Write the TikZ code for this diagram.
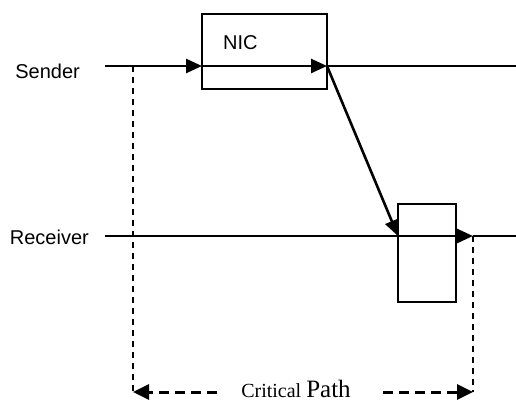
\documentclass[tikz,border=0pt]{standalone}
\usepackage{fontspec}
\setmainfont{Liberation Sans}
\newfontfamily\cpfont{Liberation Serif}
\usetikzlibrary{arrows.meta, positioning}

\begin{document}
\begin{tikzpicture}
	[   x=1pt,y=-1pt,
		box/.style={draw=black,line width=1.6pt,rectangle,inner sep=0pt},
		lbl/.style={inner sep=0pt,font=\fontsize{20}{24}\selectfont},
	]
	\tikzset{normal arrow/.style={draw,line width=2.6pt,-{Triangle[length=16pt,width=14pt]}}}
	\tikzset{thin line/.style={draw,line width=1.6pt}}
	\tikzset{dash line/.style={draw,line width=2.2pt,dash pattern=on 6pt off 5pt}}
	\useasboundingbox (0,0) rectangle (516,404);
	
	\node[box,minimum width=125pt,minimum height=75pt] (nic) at (264.5,51.5) {};
	\node[lbl,anchor=base west] (nic-t) at (223,49) {NIC};
	\node[box,minimum width=58pt,minimum height=98pt] (rcv) at (427,253) {};
	
	\node[lbl,anchor=base east] (snd-t) at (80,78) {Sender};
	\node[lbl,anchor=base east] (rcv-t) at (89,244) {Receiver};
	
	\coordinate (s-0) at (105,66);
	\coordinate (s-1) at (202,66);
	\coordinate (s-2) at (327,66);
	\coordinate (s-3) at (516,66);
	\coordinate (r-0) at (105,236);
	\coordinate (r-1) at (398,236);
	\coordinate (r-2) at (473,236);
	\coordinate (r-3) at (516,236);
	\coordinate (d-0) at (133,66);
	\coordinate (b-0) at (133,392);
	\coordinate (b-1) at (473,392);
	\coordinate (c-0) at (217,392);
	\coordinate (c-1) at (383,392);
	
	\path[normal arrow] (s-0) -- (s-1);
	\path[normal arrow] (s-1) -- (s-2);
	\path[thin line] (s-2) -- (s-3);
	\path[normal arrow] (s-2) -- (r-1);
	\path[normal arrow] (r-0) -- (r-2);
	\path[thin line] (r-2) -- (r-3);
	
	\path[dash line] (d-0) -- (b-0);
	\path[dash line] (r-2) -- (b-1);
	\path[draw,line width=3pt,dash pattern=on 10pt off 6pt,-{Triangle[length=16pt,width=15pt]}] (c-0) -- (b-0);
	\path[draw,line width=3pt,dash pattern=on 10pt off 6pt,-{Triangle[length=16pt,width=15pt]}] (c-1) -- (b-1);
	\node[inner sep=0pt,anchor=base] (cp) at (296,397) {\cpfont\fontsize{20}{24}\selectfont Critical \fontsize{25}{28}\selectfont Path};
\end{tikzpicture}
\end{document}
